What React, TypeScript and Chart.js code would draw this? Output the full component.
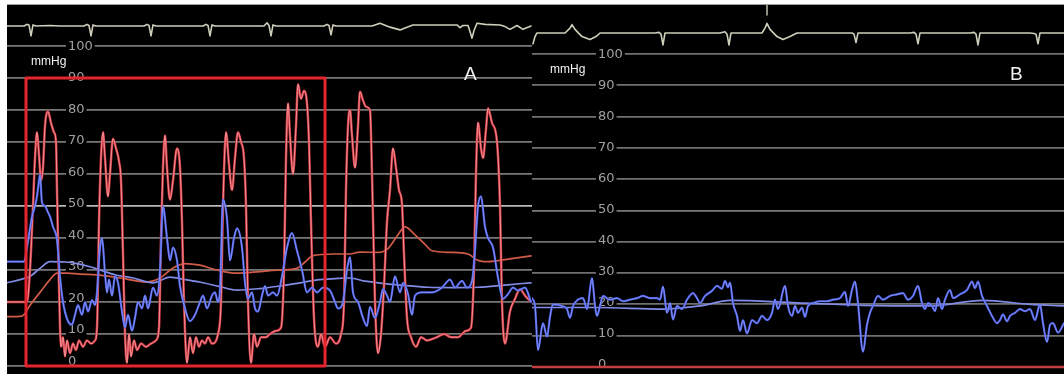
import React, { useEffect, useRef } from "react";
import { Chart, registerables } from "chart.js";

Chart.register(...registerables);

type P = [number, number];

// ---- axis ticks (mmHg) ----
const tickValues: number[] = [0, 10, 20, 30, 40, 50, 60, 70, 80, 90, 100];
const tickLabels: string[] = ["0", "10", "20", "30", "40", "50", "60", "70", "80", "90", "100"];
const unitLabel = "mmHg";
const panelNames: string[] = ["A", "B"];

// ---- Panel A: time index (x) vs pressure (mmHg) ----
const redPulseA: P[] = [
  [7, 20], [27, 20], [30, 30], [33, 50], [35, 65], [37, 73], [39, 66], [41, 58], [43, 62], [45, 75], [48, 79.5],
  [51, 76], [54, 73], [56, 70], [57, 55], [59, 25], [61, 6], [63, 9], [65, 3], [67, 8], [70, 4], [73, 7], [76, 5],
  [79, 8], [83, 6], [87, 8], [91, 7], [95, 8], [97, 12], [99, 45], [101, 65], [103, 73], [105, 65], [108, 53],
  [110, 60], [113, 71], [116, 68], [119, 64], [121, 58], [123, 35], [125, 10], [127, 1], [129, 10], [131, 3],
  [134, 8], [137, 5], [141, 7], [146, 6], [151, 7], [156, 8], [159, 12], [161, 40], [163, 62], [165, 72],
  [167, 62], [170, 52], [173, 58], [177, 68], [180, 62], [182, 45], [184, 20], [187, 1], [190, 9], [193, 4],
  [196, 9], [199, 6], [202, 8], [205, 7], [208, 9], [212, 7], [218, 10], [221, 20], [223, 50], [226, 73],
  [229, 63], [232, 55], [235, 65], [238, 73], [241, 70], [244, 65], [246, 50], [248, 20], [251, 1], [254, 10],
  [257, 6], [261, 9], [266, 9], [270, 10], [276, 11], [281, 12], [284, 30], [286, 65], [288, 82], [290, 72],
  [293, 60], [296, 75], [298, 88], [301, 83.5], [304, 86], [307, 82], [309, 70], [311, 45], [314, 15], [318, 6],
  [321, 10], [325, 6], [330, 9], [336, 7], [341, 10], [344, 20], [346, 55], [348, 75], [350, 80], [352, 72],
  [355, 62], [358, 75], [360, 85.7], [363, 83], [366, 81], [370, 80], [372, 60], [375, 20], [378, 4], [381, 10],
  [384, 25], [387, 45], [390, 55], [393, 68], [396, 62], [399, 55], [402, 50.6], [404, 35], [407, 15], [411, 9],
  [416, 6], [421, 9], [427, 8], [437, 9], [444, 10], [451, 9], [458, 9], [466, 11], [471, 12], [474, 30],
  [476, 60], [478, 76], [481, 68], [483, 65], [486, 74], [488, 80.5], [492, 76], [497, 70], [500, 50], [502, 20],
  [505, 7], [510, 17], [515, 21], [520, 24], [525, 22], [531, 20],
];

const bluePulseA: P[] = [
  [7, 32.6], [24, 32.6], [27, 37], [30, 43], [32, 46.7], [35, 50], [37, 53], [39, 58], [40, 59.7], [42, 51],
  [45, 50], [48, 48], [50, 46.7], [53, 43.5], [57, 39.4], [60, 28], [63, 20], [68, 14], [72, 13], [75, 16],
  [78, 19], [82, 16], [85, 20], [88, 17], [92, 20.6], [95, 19], [97, 23], [100, 37], [102, 40], [105, 29],
  [107, 23], [109, 27], [112, 22], [115, 28], [118, 26], [122, 17], [125, 12], [128, 16], [132, 11], [135, 15],
  [138, 20], [142, 18], [145, 22], [148, 18], [153, 24.5], [157, 22], [160, 30], [163, 49.8], [167, 40],
  [170, 33], [173, 37], [177, 33], [180, 25], [185, 18], [190, 14], [195, 16], [200, 20], [203, 22], [207, 18],
  [212, 22], [215, 23], [218, 20], [220, 24], [223, 52], [227, 46], [230, 33], [234, 40], [237, 43], [242, 37],
  [245, 26], [248, 21], [252, 23], [255, 18], [258, 17], [262, 22], [265, 25], [268, 22], [273, 23], [277, 22],
  [282, 28], [287, 37], [292, 41.5], [297, 36], [302, 30], [307, 23], [312, 24.5], [317, 23], [323, 24.5],
  [330, 23.6], [335, 20], [338, 18], [343, 20], [347, 30], [350, 34], [353, 23], [358, 20], [363, 15],
  [367, 12.5], [370, 18.5], [375, 15], [380, 20], [383, 24], [387, 22], [390, 20], [395, 28], [400, 23],
  [403, 26], [408, 22.5], [412, 16], [415, 22], [422, 23], [432, 23], [442, 24.5], [450, 27], [455, 24.5],
  [462, 26.6], [467, 24.5], [472, 26.6], [475, 36], [478, 49.8], [481, 53], [485, 43.5], [488, 40], [493, 37],
  [498, 27.6], [503, 21], [508, 22.5], [513, 24.5], [518, 23.6], [525, 24.5], [531, 20],
];

const redMeanA: P[] = [
  [7, 15.4], [22, 15.6], [30, 19], [40, 23], [50, 27], [57, 29], [67, 29], [80, 28.7], [97, 28.5], [120, 27.5],
  [147, 26.3], [160, 27.5], [173, 30.6], [185, 32], [200, 31.5], [217, 30], [237, 29], [260, 29.5], [280, 30],
  [297, 30.5], [305, 32.5], [313, 34.5], [333, 35], [350, 35], [360, 35.6], [378, 35.5], [388, 36.7], [398, 41],
  [405, 43.5], [415, 41], [425, 38], [432, 36], [450, 35.5], [468, 35], [478, 33], [488, 32.6], [510, 33.5],
  [531, 34.4],
];

const blueMeanA: P[] = [
  [7, 26], [20, 27], [30, 28], [40, 30.5], [50, 32.6], [65, 32.5], [77, 32], [90, 31], [100, 30], [115, 28.5],
  [133, 27.5], [153, 26], [170, 27.8], [185, 27], [203, 26], [220, 24.8], [237, 23.7], [260, 24.2], [280, 25],
  [300, 26], [320, 27], [335, 27.3], [350, 27.5], [365, 26.5], [378, 26], [400, 25.3], [428, 24.6], [455, 24.5],
  [478, 24.6], [505, 25.3], [531, 26],
];

// ECG (mV, on its own hidden axis)
const ecgA: P[] = [
  [7, 0], [24, 0], [27, 0.15], [29, 0.1], [31, -0.9], [33, 0.1], [36, 0], [50, 0.05], [60, 0], [84, 0],
  [87, 0.15], [89, 0.05], [91, -0.9], [93, 0.1], [96, 0], [144, 0], [147, 0.15], [149, 0.05], [151, -0.9],
  [153, 0.1], [156, 0], [203, 0], [206, 0.15], [208, 0.05], [210, -0.9], [212, 0.1], [215, 0], [264, 0],
  [267, 0.3], [269, 0.05], [271, -0.9], [273, 0.1], [276, 0], [324, 0], [327, 0.15], [329, 0.05], [331, -0.8],
  [333, 0.1], [336, 0], [372, 0], [380, 0.25], [390, -0.1], [400, -0.35], [407, -0.1], [413, 0.1], [457, 0.1],
  [460, -0.15], [463, 0.05], [468, 0.05], [470, -0.5], [472, -1.1], [474, -0.4], [477, 0.25], [485, 0.15],
  [500, 0.1], [505, -0.05], [510, -0.3], [517, 0.05], [523, -0.3], [531, 0],
];

const boxA: P[] = [[26, 0], [26, 90], [325, 90], [325, 0], [26, 0]];

// ---- Panel B ----
const bluePulseB: P[] = [
  [532, 22], [535, 19.5], [538, 5.4], [543, 14], [547, 9.7], [550, 16], [553, 20], [562, 19.5], [567, 18.5],
  [570, 15.7], [573, 19.5], [578, 21.5], [583, 22], [587, 18.5], [592, 28.4], [595, 19.5], [597, 16.3],
  [600, 19.5], [603, 22.7], [610, 21.5], [617, 22], [623, 21], [630, 21.5], [637, 22], [643, 22.7], [650, 22],
  [657, 22], [660, 21.5], [663, 25.7], [667, 17.3], [670, 20.4], [673, 15.2], [677, 19.5], [682, 18.5],
  [687, 21.5], [693, 23.6], [697, 22], [700, 20.4], [705, 22.7], [712, 24.3], [717, 25.9], [722, 25],
  [725, 27.5], [728, 25.5], [730, 27], [733, 20.4], [737, 16.3], [740, 11.5], [743, 15], [747, 10.7], [752, 15],
  [757, 14], [762, 16.3], [767, 15], [772, 17.3], [775, 21.5], [778, 18.5], [785, 25.9], [788, 19.5],
  [792, 16.3], [795, 19.5], [798, 17.3], [802, 19], [805, 16], [808, 19.5], [813, 20.4], [820, 21], [827, 21],
  [833, 21.5], [840, 22], [845, 24], [848, 19.5], [852, 24.6], [855, 27.3], [858, 20.4], [863, 4.9],
  [867, 13.5], [870, 17.3], [873, 19.5], [878, 22.7], [883, 21.5], [890, 22.7], [897, 23.2], [903, 23.6],
  [908, 21.5], [913, 22.7], [918, 25.9], [922, 20.4], [925, 18.5], [928, 20.4], [932, 19.5], [935, 17.8],
  [938, 22], [942, 18.5], [945, 21.5], [950, 24.6], [953, 22], [960, 23.2], [967, 24.6], [972, 27.3],
  [975, 25.2], [978, 27.3], [982, 22.7], [987, 19.5], [992, 16.3], [997, 14], [1000, 15], [1003, 16.8],
  [1007, 14.6], [1010, 16.3], [1015, 17.3], [1020, 18.5], [1025, 17.8], [1030, 18.5], [1035, 15], [1040, 20],
  [1043, 14], [1047, 8], [1050, 13.5], [1053, 14], [1058, 11], [1064, 14],
];

const blueMeanB: P[] = [
  [532, 19], [597, 19], [663, 18.5], [700, 19.5], [730, 21.3], [797, 20.5], [863, 19.7], [930, 19.5],
  [983, 21.3], [1030, 20], [1064, 19.5],
];

const redFlatB: P[] = [[532, 0], [1064, 0]];

const ecgB: P[] = [
  [533, -0.9], [535, -0.3], [537, 0], [565, 0], [570, 0.4], [572, 0.7], [575, 0.3], [582, -0.3], [590, -0.55],
  [596, -0.3], [600, 0], [655, 0], [659, 0.05], [661, -0.1], [663, -1.0], [665, 0], [668, 0], [720, 0],
  [725, 0.1], [727, -0.1], [729, -1.0], [731, 0], [734, 0], [762, 0], [765, 0.4], [767, 0.8], [770, 0.3],
  [777, -0.3], [783, -0.55], [790, -0.3], [797, 0], [848, 0], [852, 0], [854, -0.1], [856, -0.8], [858, 0],
  [910, 0], [914, 0.05], [916, -0.1], [918, -0.9], [920, 0], [970, 0], [974, 0.05], [976, -0.1], [978, -1.0],
  [980, 0], [1030, 0], [1034, -0.05], [1036, -0.1], [1038, -0.9], [1040, 0], [1064, 0],
];
const ecgMarkB: P[] = [[767, 2.4], [767, 1.5]];

// ---- colours ----
const RED_EDGE = "rgb(206,52,64)";
const RED_CORE = "rgb(246,160,160)";
const BLUE_EDGE = "rgb(72,90,226)";
const BLUE_CORE = "rgb(146,158,250)";
const RED_MEAN = "rgb(208,92,72)";
const BLUE_MEAN = "rgb(130,140,230)";
const ECG = "rgb(206,206,186)";
const BOX = "rgb(230,36,46)";

const toXY = (pts: P[]) => pts.map(([x, y]) => ({ x, y }));

function line(data: P[], color: string, width: number, axis = "y", smooth = true) {
  return {
    data: toXY(data),
    borderColor: color,
    borderWidth: width,
    pointRadius: 0,
    fill: false,
    yAxisID: axis,
    tension: smooth ? 0.35 : 0,
    cubicInterpolationMode: smooth ? "monotone" : "default",
    borderJoinStyle: "round",
    borderCapStyle: "round",
  } as any;
}

type PanelCfg = {
  width: number;
  height: number;
  xMin: number;
  xMax: number;
  yMin: number;
  yMax: number;
  eMin: number;
  eMax: number;
  labelX: number;
  labelDrift: number;
  name: string;
  unitPos: [number, number];
  namePos: [number, number];
  grid: string;
  grid50: string;
  datasets: any[];
};

const textPlugin = {
  id: "panelText",
  beforeDatasetsDraw(chart: any, _a: any, opts: any) {
    const { ctx, chartArea, scales } = chart;
    const y = scales.y;
    ctx.save();
    ctx.font = '13px "DejaVu Sans"';
    ctx.textBaseline = "middle";
    ctx.textAlign = "left";
    tickValues.forEach((v, i) => {
      const py = y.getPixelForValue(v);
      const ty = py - ((100 - v) / 100) * opts.labelDrift;
      const t = tickLabels[i];
      const w = ctx.measureText(t).width;
      const x = chartArea.left + opts.labelX;
      ctx.fillStyle = "#000";
      ctx.fillRect(x - 2, py - 2, w + 4, 4);
      ctx.fillStyle = "rgb(160,160,160)";
      ctx.fillText(t, x, ty + 0.5);
    });
    ctx.restore();
  },
  afterDraw(chart: any, _a: any, opts: any) {
    const { ctx } = chart;
    ctx.save();
    ctx.fillStyle = "#f2f2f2";
    ctx.textBaseline = "middle";
    ctx.textAlign = "left";
    ctx.font = '12px "Liberation Sans"';
    ctx.fillText(unitLabel, opts.unitPos[0], opts.unitPos[1]);
    ctx.font = '19px "Liberation Sans"';
    ctx.fillText(opts.name, opts.namePos[0], opts.namePos[1]);
    ctx.restore();
  },
};

function Panel({ cfg }: { cfg: PanelCfg }) {
  const ref = useRef<HTMLCanvasElement | null>(null);
  useEffect(() => {
    if (!ref.current) return;
    const chart = new Chart(ref.current, {
      type: "line",
      data: { datasets: cfg.datasets },
      options: {
        responsive: false,
        maintainAspectRatio: false,
        animation: false,
        events: [],
        layout: { padding: 0 },
        plugins: {
          legend: { display: false },
          tooltip: { enabled: false },
          panelText: {
            labelX: cfg.labelX,
            labelDrift: cfg.labelDrift,
            name: cfg.name,
            unitPos: cfg.unitPos,
            namePos: cfg.namePos,
          },
        } as any,
        scales: {
          x: { type: "linear", display: false, min: cfg.xMin, max: cfg.xMax },
          y: {
            type: "linear",
            position: "left",
            min: cfg.yMin,
            max: cfg.yMax,
            afterBuildTicks: (axis: any) => {
              axis.ticks = tickValues.map((v) => ({ value: v }));
            },
            ticks: { display: false },
            border: { display: false },
            grid: {
              drawTicks: false,
              lineWidth: 1.8,
              color: (c: any) => (c.tick && c.tick.value === 50 ? cfg.grid50 : cfg.grid),
            },
          },
          ecg: { type: "linear", display: false, min: cfg.eMin, max: cfg.eMax },
        },
      } as any,
      plugins: [textPlugin],
    });
    return () => chart.destroy();
  }, [cfg]);
  return <canvas ref={ref} width={cfg.width} height={cfg.height} style={{ display: "block" }} />;
}

// datasets earlier in the list are drawn on top
const panelA: PanelCfg = {
  width: 525,
  height: 369,
  xMin: 7,
  xMax: 532,
  yMin: -2.5,
  yMax: 112.8,
  eMin: -31.6,
  eMax: 1.91,
  labelX: 61,
  labelDrift: 5,
  name: panelNames[0],
  unitPos: [24, 57],
  namePos: [457, 70],
  grid: "rgb(120,120,120)",
  grid50: "rgb(185,185,185)",
  datasets: [
    line(boxA, BOX, 3, "y", false),
    line(bluePulseA, BLUE_CORE, 0.8),
    line(bluePulseA, BLUE_EDGE, 2.2),
    line(redPulseA, RED_CORE, 0.9),
    line(redPulseA, RED_EDGE, 2.5),
    line(blueMeanA, BLUE_MEAN, 1.7),
    line(redMeanA, RED_MEAN, 1.7),
    line(ecgA, ECG, 1.6, "ecg", false),
  ],
};

const panelB: PanelCfg = {
  width: 532,
  height: 369,
  xMin: 532,
  xMax: 1064,
  yMin: -2.24,
  yMax: 115.65,
  eMin: -28.4,
  eMax: 2.33,
  labelX: 66,
  labelDrift: 3,
  name: panelNames[1],
  unitPos: [18, 65],
  namePos: [478, 70],
  grid: "rgb(112,112,112)",
  grid50: "rgb(122,122,122)",
  datasets: [
    line(redFlatB, "rgb(196,62,62)", 2.4, "y", false),
    line(bluePulseB, BLUE_CORE, 0.8),
    line(bluePulseB, BLUE_EDGE, 2.2),
    line(blueMeanB, BLUE_MEAN, 1.7),
    line(ecgB, ECG, 1.6, "ecg", false),
    line(ecgMarkB, ECG, 1.4, "ecg", false),
  ],
};

export default function App() {
  return (
    <div
      style={{
        position: "absolute",
        left: 0,
        top: 0,
        width: 1064,
        height: 374,
        background: "#fff",
        overflow: "hidden",
      }}
    >
      <div
        style={{
          position: "absolute",
          left: 7,
          top: 4,
          width: 1057,
          height: 1,
          background: "rgb(160,160,160)",
        }}
      />
      <div style={{ position: "absolute", left: 7, top: 5, width: 525, height: 369, background: "#000" }}>
        <Panel cfg={panelA} />
      </div>
      <div style={{ position: "absolute", left: 532, top: 5, width: 532, height: 369, background: "#000" }}>
        <Panel cfg={panelB} />
      </div>
    </div>
  );
}
